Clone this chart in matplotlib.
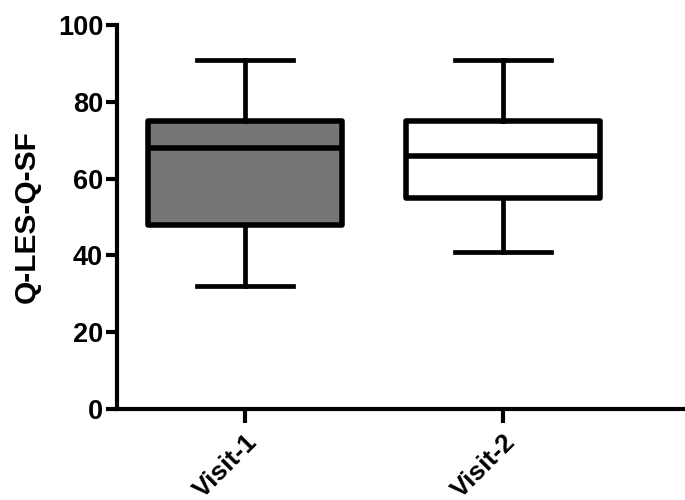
import matplotlib
matplotlib.use("Agg")
import matplotlib.pyplot as plt

plt.rcParams['font.family'] = ['Liberation Sans', 'DejaVu Sans']

# box summary values
groups = ["Visit-1", "Visit-2"]
whislo = [32, 41]
q1 = [48, 55]
med = [68, 66]
q3 = [75, 75]
whishi = [91, 91]
fills = ["#767676", "#ffffff"]

stats = []
for i in range(len(groups)):
    stats.append(dict(label=groups[i], whislo=whislo[i], q1=q1[i], med=med[i],
                      q3=q3[i], whishi=whishi[i], fliers=[]))

fig = plt.figure(figsize=(6.85, 5), dpi=100)
ax = fig.add_axes([0.171, 0.182, 0.826, 0.768])

bp = ax.bxp(stats, positions=[0, 1], widths=0.75, patch_artist=True, showfliers=False,
            boxprops=dict(linewidth=4, edgecolor="black"),
            medianprops=dict(linewidth=4, color="black"),
            whiskerprops=dict(linewidth=3.4, color="black"),
            capprops=dict(linewidth=3.4, color="black"),
            capwidths=0.37)
for patch, c in zip(bp['boxes'], fills):
    patch.set_facecolor(c)
    patch.set_joinstyle('round')

ax.set_xlim(-0.496, 1.698)
ax.set_ylim(0, 100)
ax.set_yticks([0, 20, 40, 60, 80, 100])
ax.set_xticks([0, 1])
ax.set_xticklabels(groups, rotation=45, ha='right', rotation_mode='anchor',
                   fontsize=19, fontweight='bold')
for lab in ax.get_yticklabels():
    lab.set_fontsize(19.5)
    lab.set_fontweight('bold')
ax.set_ylabel("Q-LES-Q-SF", fontsize=21.5, fontweight='bold', labelpad=12)

for s in ['top', 'right']:
    ax.spines[s].set_visible(False)
for s in ['left', 'bottom']:
    ax.spines[s].set_linewidth(3)
ax.tick_params(axis='y', length=8, width=3, pad=2)
ax.tick_params(axis='x', length=10, width=3, pad=5)

fig.savefig("out.png", dpi=100)
